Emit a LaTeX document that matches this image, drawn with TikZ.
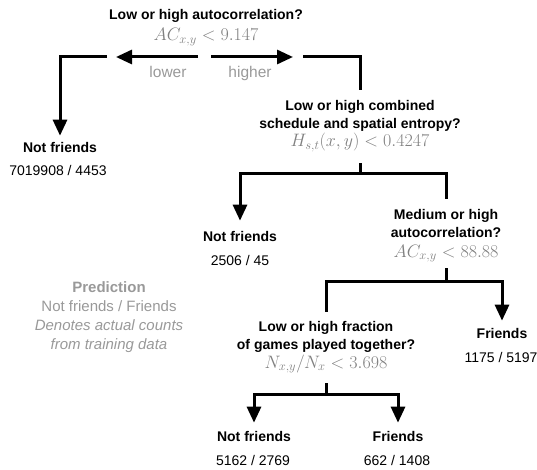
\RequirePackage{fix-cm}
\documentclass[tikz,border=0pt]{standalone}
\usepackage[no-math]{fontspec}
\setmainfont{Liberation Sans}
\usetikzlibrary{arrows.meta}
\definecolor{txtgray}{gray}{0.6}
\definecolor{mathgray}{gray}{0.5}

\begin{document}
\begin{tikzpicture}[x=1pt, y=1pt,
    E/.style={line width=3pt},
    A/.style={E, -{Triangle[width=14pt, length=16pt]}},
    Q/.style={font=\fontsize{14}{18}\selectfont\bfseries, align=center, inner sep=0pt},
    F/.style={font=\fontsize{18}{20}\selectfont, text=mathgray, inner sep=0pt, anchor=base},
    L/.style={font=\fontsize{14}{17}\selectfont\bfseries, inner sep=0pt, anchor=base},
    C/.style={font=\fontsize{14}{17}\selectfont, inner sep=0pt, anchor=base},
    G/.style={font=\fontsize{15.5}{18}\selectfont, text=txtgray, inner sep=0pt, anchor=base}
  ]
  \useasboundingbox (0,0) rectangle (537,-470);

  % root split
  \node [Q, anchor=base] (q1) at (206,-20) {Low or high autocorrelation?};
  \node [F] (f1) at (206,-41) {$AC_{x,y} < 9.147$};
  \node [G] (lo) at (168,-78) {lower};
  \node [G] (hi) at (250,-78) {higher};
  \node [L] (nf1) at (60,-153) {Not friends};
  \node [C] (n1) at (58,-176) {7019908 / 4453};

  % second split
  \node [Q, anchor=north] (q2) at (360,-100) {Low or high combined\\schedule and spatial entropy?};
  \node [F] (f2) at (360,-147) {$H_{s,t}(x,y) < 0.4247$};
  \node [L] (nf2) at (240,-241) {Not friends};
  \node [C] (n2) at (240,-265) {2506 / 45};

  % third split
  \node [Q, anchor=north] (q3) at (446,-209) {Medium or high\\autocorrelation?};
  \node [F] (f3) at (446,-257) {$AC_{x,y} < 88.88$};
  \node [L] (fr3) at (502,-338) {Friends};
  \node [C] (n3) at (501,-362) {1175 / 5197};

  % fourth split
  \node [Q, anchor=north] (q4) at (326,-321) {Low or high fraction\\of games played together?};
  \node [F] (f4) at (326,-368) {$N_{x,y}/N_x < 3.698$};
  \node [L] (nf4) at (254,-441) {Not friends};
  \node [C] (n4) at (253,-465) {5162 / 2769};
  \node [L] (fr4) at (398,-441) {Friends};
  \node [C] (n5) at (397,-465) {662 / 1408};

  % key
  \node [G, anchor=north, align=center, font=\fontsize{15}{19}\selectfont] (key) at (109,-281)
    {\textbf{Prediction}\\Not friends / Friends\\\textit{Denotes actual counts}\\\textit{from training data}};

  \coordinate (t1) at (107,-57);
  \coordinate (t2) at (198,-57);
  \coordinate (t3) at (116,-57);
  \coordinate (t4) at (211,-57);
  \coordinate (t5) at (293,-57);
  \coordinate (t6) at (303,-57);
  \coordinate (j2) at (360,-174);
  \coordinate (j3) at (446,-281);
  \coordinate (j4) at (326,-394);

  \draw [A, shorten >=7pt] (t1) -| (nf1);
  \draw [A] (t2) -- (t3);
  \draw [A] (t4) -- (t5);
  \draw [E, shorten >=10pt] (t6) -| (q2);

  \draw [E, shorten <=11pt] (f2) -- (j2);
  \draw [A, shorten >=10pt] (j2) -| (nf2);
  \draw [E, shorten >=10pt] (j2) -| (q3);

  \draw [E, shorten <=6pt] (f3) -- (j3);
  \draw [A, shorten >=7pt] (j3) -| (fr3);
  \draw [E, shorten >=9pt] (j3) -| (q4);

  \draw [E, shorten <=10pt] (f4) -- (j4);
  \draw [A, shorten >=8pt] (j4) -| (nf4);
  \draw [A, shorten >=8pt] (j4) -| (fr4);
\end{tikzpicture}
\end{document}
